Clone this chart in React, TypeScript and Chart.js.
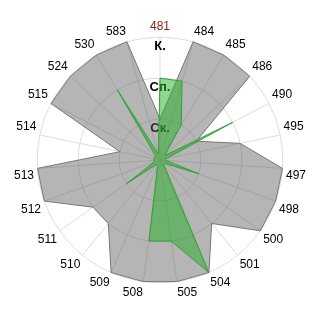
import React, { useEffect, useRef } from "react";
import { Chart, registerables } from "chart.js";

Chart.register(...registerables);

const categories = ["481", "484", "485", "486", "490", "495", "497", "498", "500", "501", "504", "505", "508", "509", "510", "511", "512", "513", "514", "515", "524", "530", "583"];
const greenValues = [2, 2, 1, 0.15, 2, 0.15, 0.15, 1, 0.15, 0.15, 3, 2, 2, 0.15, 0.15, 1, 0.15, 0.15, 0.15, 0.15, 0.15, 2, 0.15];
const grayValues = [1, 3, 3, 3, 1, 2, 3, 3, 3, 2, 3, 3, 3, 3, 2, 2, 3, 3, 1, 3, 3, 3, 3];
const tickLabels: Record<number, string> = { 1: "Ск.", 2: "Сп.", 3: "К." };

export default function App() {
  const ref = useRef<HTMLCanvasElement | null>(null);
  useEffect(() => {
    if (!ref.current) return;
    const chart = new Chart(ref.current, {
      type: "radar",
      data: {
        labels: categories,
        datasets: [
          {
            data: greenValues,
            backgroundColor: "rgba(35,175,35,0.5)",
            borderColor: "rgb(50,160,50)",
            borderWidth: 1,
            pointRadius: 0,
            fill: true,
          },
          {
            data: grayValues,
            backgroundColor: "rgba(90,90,90,0.45)",
            borderColor: "#777777",
            borderWidth: 1,
            pointRadius: 0,
            fill: true,
          },
        ],
      },
      options: {
        animation: false,
        responsive: true,
        maintainAspectRatio: false,
        layout: { padding: 14 },
        plugins: { legend: { display: false }, tooltip: { enabled: false } },
        elements: { line: { tension: 0 } },
        scales: {
          r: {
            min: 0,
            max: 3,
            beginAtZero: true,
            grid: { circular: true, color: "#dcdcdc", lineWidth: 1 },
            angleLines: { color: "#dcdcdc", lineWidth: 1 },
            ticks: {
              stepSize: 1,
              showLabelBackdrop: false,
              backdropPadding: 0,
              color: "#000000",
              font: { family: "'Liberation Sans', Arial, sans-serif", size: 13, weight: "bold", lineHeight: "9px" },
              callback: (v: any) => (tickLabels[v] ? ["", tickLabels[v]] : ""),
            },
            pointLabels: {
              padding: -3,
              color: (ctx: any) => (ctx.index === 0 ? "#8b1a1a" : "#000000"),
              font: { family: "'Liberation Sans', Arial, sans-serif", size: 12 },
            },
          },
        },
      },
    });
    return () => chart.destroy();
  }, []);
  return (
    <div style={{ position: "absolute", left: 0, top: 0, width: 320, height: 320, background: "#ffffff" }}>
      <canvas ref={ref} />
    </div>
  );
}
